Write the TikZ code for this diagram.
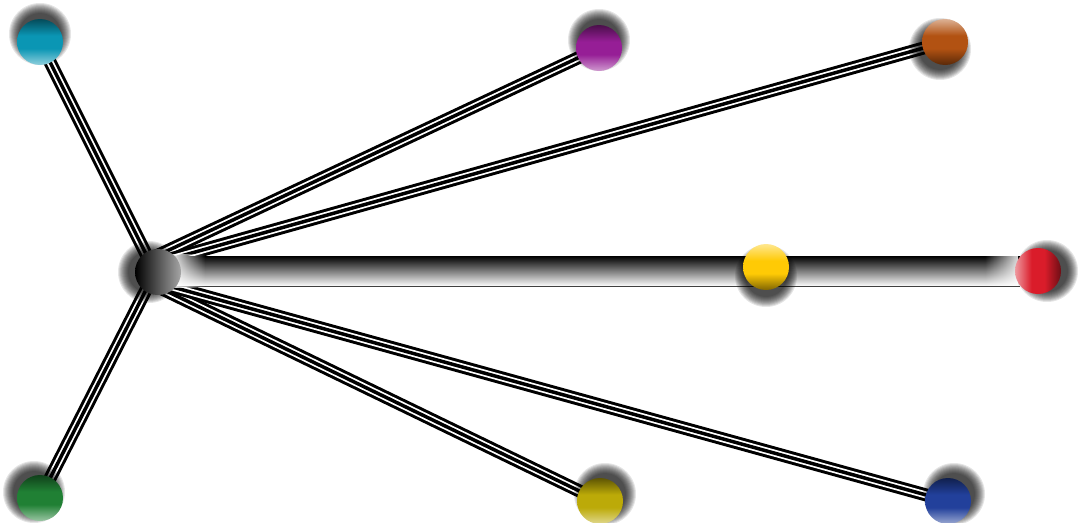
\documentclass[tikz,border=0pt]{standalone}
\usetikzlibrary{fadings}
\definecolor{cCyan}{RGB}{10,150,180}
\definecolor{cPurple}{RGB}{150,30,150}
\definecolor{cBrown}{RGB}{178,82,18}
\definecolor{cYellow}{RGB}{255,202,5}
\definecolor{cRed}{RGB}{218,28,42}
\definecolor{cGreen}{RGB}{32,128,52}
\definecolor{cOlive}{RGB}{188,170,8}
\definecolor{cNavy}{RGB}{34,64,155}
\colorlet{bLt}{white}\colorlet{bMid}{gray}\colorlet{bDk}{black}
\pgfdeclareverticalshading[bLt,bMid,bDk]{ballshTB}{100bp}{color(0bp)=(bLt); color(25bp)=(bLt); color(43bp)=(bMid); color(57bp)=(bMid); color(75bp)=(bDk); color(100bp)=(bDk)}
\pgfdeclareverticalshading[bLt,bMid,bDk]{ballshBT}{100bp}{color(0bp)=(bDk); color(25bp)=(bDk); color(43bp)=(bMid); color(57bp)=(bMid); color(75bp)=(bLt); color(100bp)=(bLt)}
\pgfdeclarehorizontalshading[bLt,bMid,bDk]{ballshLR}{100bp}{color(0bp)=(bLt); color(25bp)=(bLt); color(43bp)=(bMid); color(57bp)=(bMid); color(75bp)=(bDk); color(100bp)=(bDk)}
\tikzfading[name=fadeR, left color=transparent!100, right color=transparent!0]
\tikzfading[name=fadeL, left color=transparent!0, right color=transparent!100]
\tikzset{
  wire/.style={draw=black, line width=3.5pt,
    preaction={draw=black, line width=13pt},
    preaction={draw=white, line width=7pt}},
  ball/.style={circle, minimum size=46pt, inner sep=0pt},
  ballcols/.style={/utils/exec={\colorlet{bMid}{#1}\colorlet{bDk}{#1!50!black}\colorlet{bLt}{#1!45!white}}},
  ballTB/.style={ball, ballcols=#1, shade, shading=ballshTB},
  ballBT/.style={ball, ballcols=#1, shade, shading=ballshBT},
  ballLR/.style={ball, ballcols=#1, shade, shading=ballshLR},
  shadowdisc/.style={fill=black, opacity=0.1}
}
\newcommand{\mysoftshadow}[3]{%
  \foreach \rr in {21,...,31}{\fill[shadowdisc] (#1) ++(#2,#3) circle (\rr pt);}}
\begin{document}
\begin{tikzpicture}[x=1pt,y=-1pt]
\useasboundingbox (0,0) rectangle (1083,522);
% positions
\coordinate (pHub) at (158,272);
\coordinate (pCyan) at (40,42);
\coordinate (pPurple) at (599,48);
\coordinate (pBrown) at (945,42);
\coordinate (pYellow) at (766,267);
\coordinate (pRed) at (1038,271);
\coordinate (pGreen) at (40,498);
\coordinate (pOlive) at (600,501);
\coordinate (pNavy) at (948,501);
% wire ends on hub
\coordinate (hC) at (150,262);
\coordinate (hP) at (152,258);
\coordinate (hB) at (156,263);
\coordinate (hG) at (150,282);
\coordinate (hO) at (156,286);
\coordinate (hN) at (158,283);
\coordinate (tubeL) at (172,256);
\coordinate (tubeR) at (1020,285);
% wires
\draw[wire] (hC) -- (pCyan);
\draw[wire] (hP) -- (pPurple);
\draw[wire] (hB) -- (pBrown);
\draw[wire] (hG) -- (pGreen);
\draw[wire] (hO) -- (pOlive);
\draw[wire] (hN) -- (pNavy);
% tube to red
\shade[top color=black, middle color=black!55, bottom color=black!4] (tubeL) rectangle (tubeR);
\draw[black!75, line width=1.5pt] (172,286.5) -- (1020,286.5);
\fill[white, path fading=fadeL] (170,254) rectangle (205,288);
\fill[white, opacity=0.85, path fading=fadeR] (985,254) rectangle (1018,286);
% shadows
\mysoftshadow{pHub}{-9}{0}
\mysoftshadow{pCyan}{0}{-8}
\mysoftshadow{pPurple}{0}{-8}
\mysoftshadow{pBrown}{-5}{7}
\mysoftshadow{pYellow}{0}{9}
\mysoftshadow{pRed}{9}{0}
\mysoftshadow{pGreen}{-6}{-6}
\mysoftshadow{pOlive}{5}{-7}
\mysoftshadow{pNavy}{6}{-7}
% balls
\node[ball, left color=black, middle color=black!92, right color=black!35] (hub) at (pHub) {};
\node[ballTB=cCyan] (cyan) at (pCyan) {};
\node[ballTB=cPurple] (purple) at (pPurple) {};
\node[ballBT=cBrown] (brown) at (pBrown) {};
\node[ballBT=cYellow] (yellow) at (pYellow) {};
\node[ballLR=cRed] (red) at (pRed) {};
\node[ballTB=cGreen] (green) at (pGreen) {};
\node[ballTB=cOlive] (olive) at (pOlive) {};
\node[ballTB=cNavy] (navy) at (pNavy) {};
\end{tikzpicture}
\end{document}
